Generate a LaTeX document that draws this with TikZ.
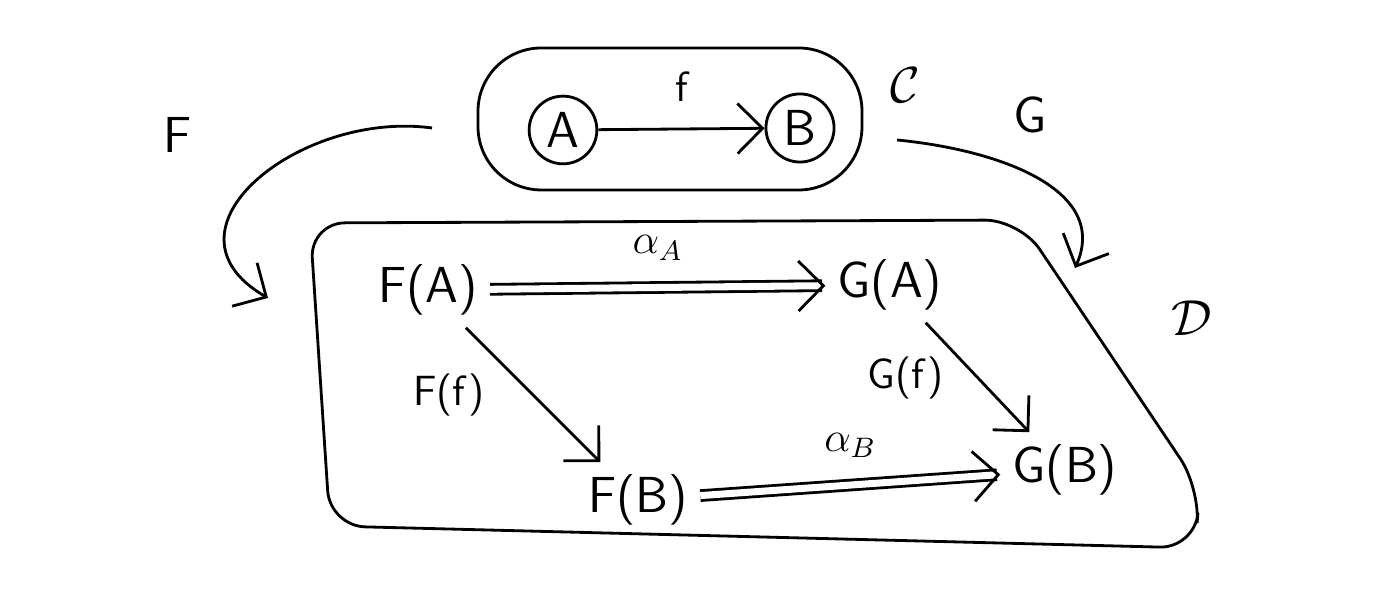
\documentclass[tikz,border=0pt]{standalone}
\usetikzlibrary{arrows.meta,positioning}
\begin{document}
\begin{tikzpicture}[x=0.01cm,y=0.01cm,
          every node/.style={font=\sffamily\Large},
          obj/.style={circle, draw, thick, inner sep=2pt},
          lbl/.style={font=\sffamily\large},
          arr/.style={-{Straight Barb[length=2.5mm]}, thick},
          nat/.style={-{Straight Barb[length=2.5mm]}, thick, double, double distance=2pt},
          >=stealth
        ]
        \useasboundingbox (0,0) rectangle (1384,598);

        % category C
        \draw[thick, rounded corners=18pt] (478,550) rectangle (862,408);
        \node at (905,513) {$\mathcal{C}$};
        \node[obj] (A) at (563,468) {A};
        \node[obj] (B) at (800,470) {B};
        \draw[arr] (A) -- node[above=4pt, lbl] {f} (B);

        % category D
        \draw[thick, rounded corners=10pt] (310,375) -- (1020,378)
            -- (1200,110) -- (1195,50) -- (330,72) -- cycle;
        \node at (1192,280) {$\mathcal{D}$};

        % functors
        \coordinate (Fs) at (432,470);
        \coordinate (Fe) at (268,300);
        \coordinate (Gs) at (897,458);
        \coordinate (Ge) at (1075,330);
        \node (Fl) at (178,463) {F};
        \node (Gl) at (1030,483) {G};
        \draw[arr] (Fs) .. controls (300,488) and (150,368) .. (Fe);
        \draw[arr] (Gs) .. controls (1000,448) and (1110,408) .. (Ge);

        % naturality square
        \node (FA) at (428,308) {F(A)};
        \node (GA) at (890,313) {G(A)};
        \node (FB) at (638,98) {F(B)};
        \node (GB) at (1065,128) {G(B)};
        \draw[nat] (FA) -- node[above=4pt, lbl] {$\alpha_A$} (GA);
        \draw[nat] (FB) -- node[above=4pt, lbl] {$\alpha_B$} (GB);
        \draw[arr] (FA) -- node[left=10pt, lbl] {F(f)} (FB);
        \draw[arr] (GA) -- node[left=6pt, lbl] {G(f)} (GB);
\end{tikzpicture}
\end{document}
